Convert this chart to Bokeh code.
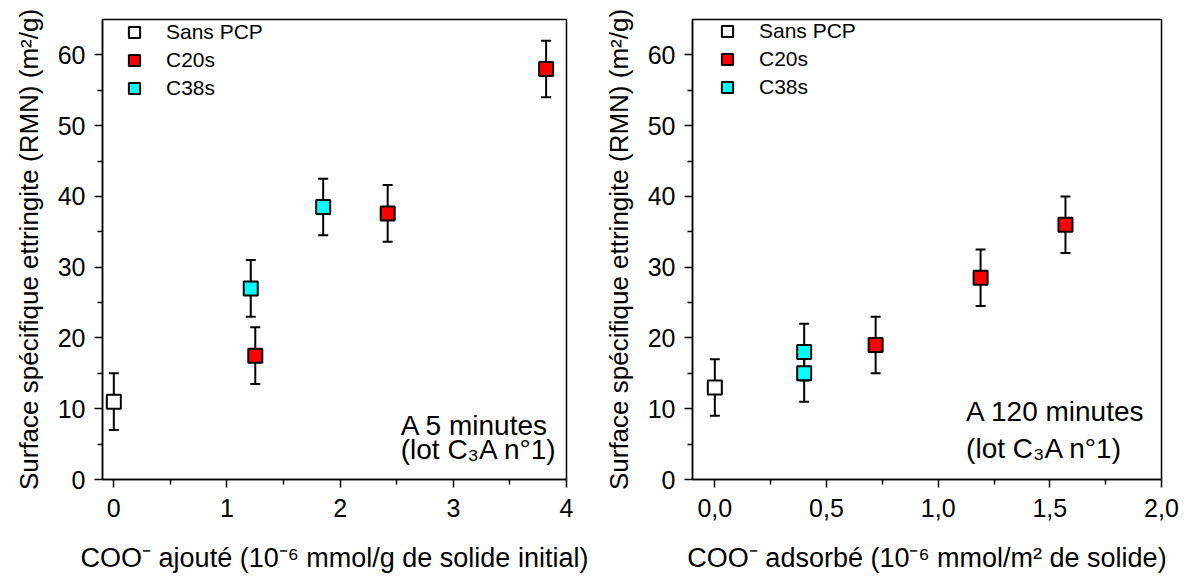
from bokeh.plotting import figure
from bokeh.models import (ColumnDataSource, Whisker, TeeHead, FixedTicker, Legend,
                          LegendItem, Label, Range1d)
from bokeh.layouts import row
from bokeh.embed import file_html
from bokeh.resources import INLINE

FONT = "Liberation Sans"

# ---------- data: left panel (5 minutes) ----------
left_sans_x = [0.0]
left_sans_y = [11.0]
left_sans_err = [4.0]
left_c20_x = [1.25, 2.42, 3.82]
left_c20_y = [17.5, 37.6, 58.0]
left_c20_err = [4.0, 4.0, 4.0]
left_c38_x = [1.21, 1.85]
left_c38_y = [27.0, 38.5]
left_c38_err = [4.0, 4.0]

# ---------- data: right panel (120 minutes) ----------
right_sans_x = [0.0]
right_sans_y = [13.0]
right_sans_err = [4.0]
right_c20_x = [0.72, 1.19, 1.57]
right_c20_y = [19.0, 28.5, 36.0]
right_c20_err = [4.0, 4.0, 4.0]
right_c38_x = [0.40, 0.40]
right_c38_y = [18.0, 15.0]
right_c38_err = [4.0, 4.0]

series_names = ["Sans PCP", "C20s", "C38s"]
series_colors = ["white", "#ff0000", "#00ffff"]

left_xticks = [0, 1, 2, 3, 4]
left_xminor = [0.5, 1.5, 2.5, 3.5]
left_xlabels = ["0", "1", "2", "3", "4"]
right_xticks = [0.0, 0.5, 1.0, 1.5, 2.0]
right_xminor = [0.25, 0.75, 1.25, 1.75]
right_xlabels = ["0,0", "0,5", "1,0", "1,5", "2,0"]
yticks = [0, 10, 20, 30, 40, 50, 60]
yminor = [5, 15, 25, 35, 45, 55]

ylabel = "Surface spécifique ettringite (RMN) (m²/g)"
left_xlabel = "COO⁻ ajouté (10⁻⁶ mmol/g de solide initial)"
right_xlabel = "COO⁻ adsorbé (10⁻⁶ mmol/m² de solide)"

FIG_H = 575


def make_panel(width, bl, br, bt, bb, xr, xticks, xminor, xlabels, xlabel, series,
               legend_loc, ann_lines):
    p = figure(width=width, height=FIG_H, output_backend="svg", toolbar_location=None,
               x_range=Range1d(*xr), y_range=Range1d(0, 65),
               min_border_left=bl, min_border_right=br, min_border_top=bt,
               min_border_bottom=bb)
    p.grid.visible = False
    p.outline_line_color = "black"
    p.outline_line_width = 1.5
    p.background_fill_color = "white"
    p.border_fill_color = "white"

    for ax in (p.xaxis[0], p.yaxis[0]):
        ax.axis_line_width = 1.5
        ax.axis_line_color = "black"
        ax.major_tick_line_width = 1.5
        ax.minor_tick_line_width = 1.5
        ax.major_tick_out = 8
        ax.major_tick_in = 0
        ax.minor_tick_out = 5
        ax.minor_tick_in = 0
        ax.major_label_text_font = FONT
        ax.major_label_text_font_size = "25px"
        ax.major_label_text_color = "black"
        ax.axis_label_text_font = FONT
        ax.axis_label_text_font_style = "normal"
        ax.axis_label_text_color = "black"

    p.xaxis.ticker = FixedTicker(ticks=xticks, minor_ticks=xminor)
    p.xaxis.major_label_overrides = {t: l for t, l in zip(xticks, xlabels)}
    p.xaxis.axis_label = xlabel
    p.xaxis.axis_label_text_font_size = "27px"
    p.xaxis.major_label_standoff = 11
    p.xaxis.axis_label_standoff = 23
    p.yaxis.ticker = FixedTicker(ticks=yticks, minor_ticks=yminor)
    p.yaxis.axis_label = ylabel
    p.yaxis.axis_label_text_font_size = "26px"
    p.yaxis.major_label_standoff = 9
    p.yaxis.axis_label_standoff = 11

    items = []
    for (xs, ys, errs), name, color in zip(series, series_names, series_colors):
        src = ColumnDataSource(dict(x=xs, y=ys,
                                    lower=[a - e for a, e in zip(ys, errs)],
                                    upper=[a + e for a, e in zip(ys, errs)]))
        w = Whisker(base="x", upper="upper", lower="lower", source=src,
                    line_width=2, line_color="black", level="underlay",
                    upper_head=TeeHead(size=10, line_width=2, line_color="black"),
                    lower_head=TeeHead(size=10, line_width=2, line_color="black"))
        p.add_layout(w)
        r = p.scatter("x", "y", source=src, marker="square", size=14,
                      fill_color=color, line_color="black", line_width=2)
        items.append(LegendItem(label=name, renderers=[r]))

    leg = Legend(items=items, location=legend_loc, margin=0, padding=0,
                 spacing=0, glyph_width=32, glyph_height=28, label_standoff=16,
                 label_text_font=FONT, label_text_font_size="21px",
                 label_text_color="black", border_line_color=None,
                 background_fill_alpha=0)
    p.add_layout(leg, "center")

    for (x, y, txt) in ann_lines:
        p.add_layout(Label(x=x, y=y, text=txt, text_font=FONT, text_font_size="28px",
                           text_color="black", text_align="left",
                           text_baseline="middle"))
    return p


# left frame: x 102..566, y 19..482
left = make_panel(600, 102, 34, 19, FIG_H - 482, (-0.1, 4.0), left_xticks, left_xminor,
                  left_xlabels, left_xlabel,
                  [(left_sans_x, left_sans_y, left_sans_err),
                   (left_c20_x, left_c20_y, left_c20_err),
                   (left_c38_x, left_c38_y, left_c38_err)],
                  (16, 377),
                  [(2.535, 7.7, "A 5 minutes"), (2.535, 4.3, "(lot C₃A n°1)")])

# right frame: x 692..1161, y 15..482
right = make_panel(580, 92, 19, 15, FIG_H - 482, (-0.1, 2.0), right_xticks, right_xminor,
                   right_xlabels, right_xlabel,
                   [(right_sans_x, right_sans_y, right_sans_err),
                    (right_c20_x, right_c20_y, right_c20_err),
                    (right_c38_x, right_c38_y, right_c38_err)],
                   (19, 378),
                   [(1.125, 9.6, "A 120 minutes"), (1.125, 4.4, "(lot C₃A n°1)")])

layout = row(left, right)
open("out.html", "w").write(file_html(layout, INLINE))
